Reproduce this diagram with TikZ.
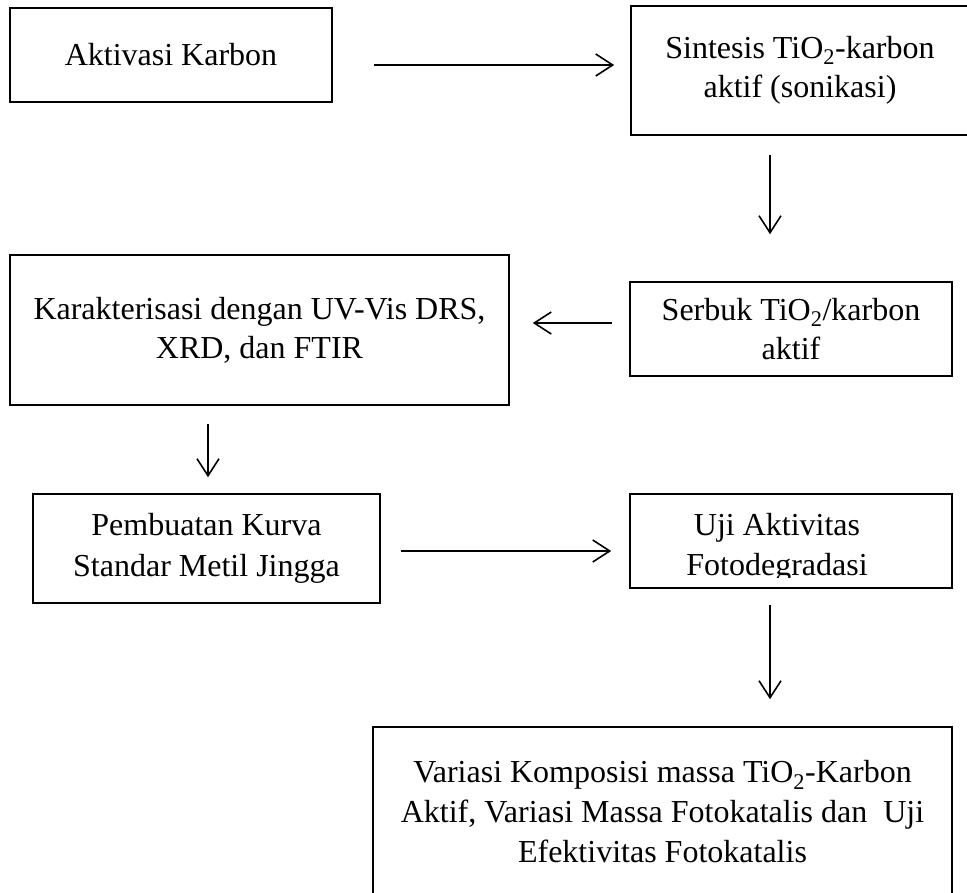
\documentclass[tikz,border=0pt]{standalone}
\usepackage{fontspec}
\setmainfont{Liberation Serif}
\usetikzlibrary{arrows.meta,calc}
\begin{document}
\begin{tikzpicture}[x=1pt,y=-1pt,
  box/.style={draw, line width=1.6pt, rectangle, inner sep=0pt, align=center,
    font=\fontsize{32}{39}\selectfont},
  txt/.style={inner sep=0pt, align=center, font=\fontsize{32}{40}\selectfont},
  arr/.style={line width=1.6pt, -{Straight Barb[length=17pt,width=22pt,line width=1.6pt]}}]
\useasboundingbox (0,0) rectangle (967,892);
\clip (0,0) rectangle (967,892);

\node[box, minimum width=322pt, minimum height=94pt] (b1) at (171,55) {Aktivasi Karbon};
\node[box, minimum width=338pt, minimum height=129pt] (b2) at (800,70.5) {Sintesis TiO\textsubscript{2}-karbon\\aktif (sonikasi)};
\node[box, minimum width=499pt, minimum height=150pt] (b3) at (259.5,330) {Karakterisasi dengan UV-Vis DRS,\\XRD, dan FTIR};
\node[box, minimum width=322pt, minimum height=94pt] (b4) at (791,329) {Serbuk TiO\textsubscript{2}/karbon\\aktif};
\node[box, font=\fontsize{32}{41}\selectfont, minimum width=347pt, minimum height=109pt] (b5) at (206.5,548.5) {Pembuatan Kurva\\Standar Metil Jingga};
\node[box, minimum width=322pt, minimum height=94pt] (b6) at (791,541) {};
\begin{scope}
  \clip (630,494) rectangle (952,577);
  \node[txt] (t6) at (777,547.5) {Uji Aktivitas\\Fotodegradasi};
\end{scope}
\node[box, font=\fontsize{32}{40}\selectfont, minimum width=579pt, minimum height=170pt] (b7) at (662.5,812) {Variasi Komposisi massa TiO\textsubscript{2}-Karbon\\Aktif, Variasi Massa Fotokatalis dan~ Uji\\Efektivitas Fotokatalis};

\draw[arr] ($(b1.east)+(41,10)$) -- ($(b2.west)+(-16,-5.5)$);
\draw[arr] ($(b2.south)+(-30,19)$) -- ($(b4.north)+(-21,-47)$);
\draw[arr] ($(b4.west)+(-17,-6)$) -- ($(b3.east)+(23,-7)$);
\draw[arr] ($(b3.south)+(-51.5,18)$) -- ($(b5.north)+(1.5,-16)$);
\draw[arr] ($(b5.east)+(20,2.5)$) -- ($(b6.west)+(-18,10)$);
\draw[arr] ($(b6.south)+(-21,16)$) -- ($(b7.north)+(107.5,-27)$);
\end{tikzpicture}
\end{document}
